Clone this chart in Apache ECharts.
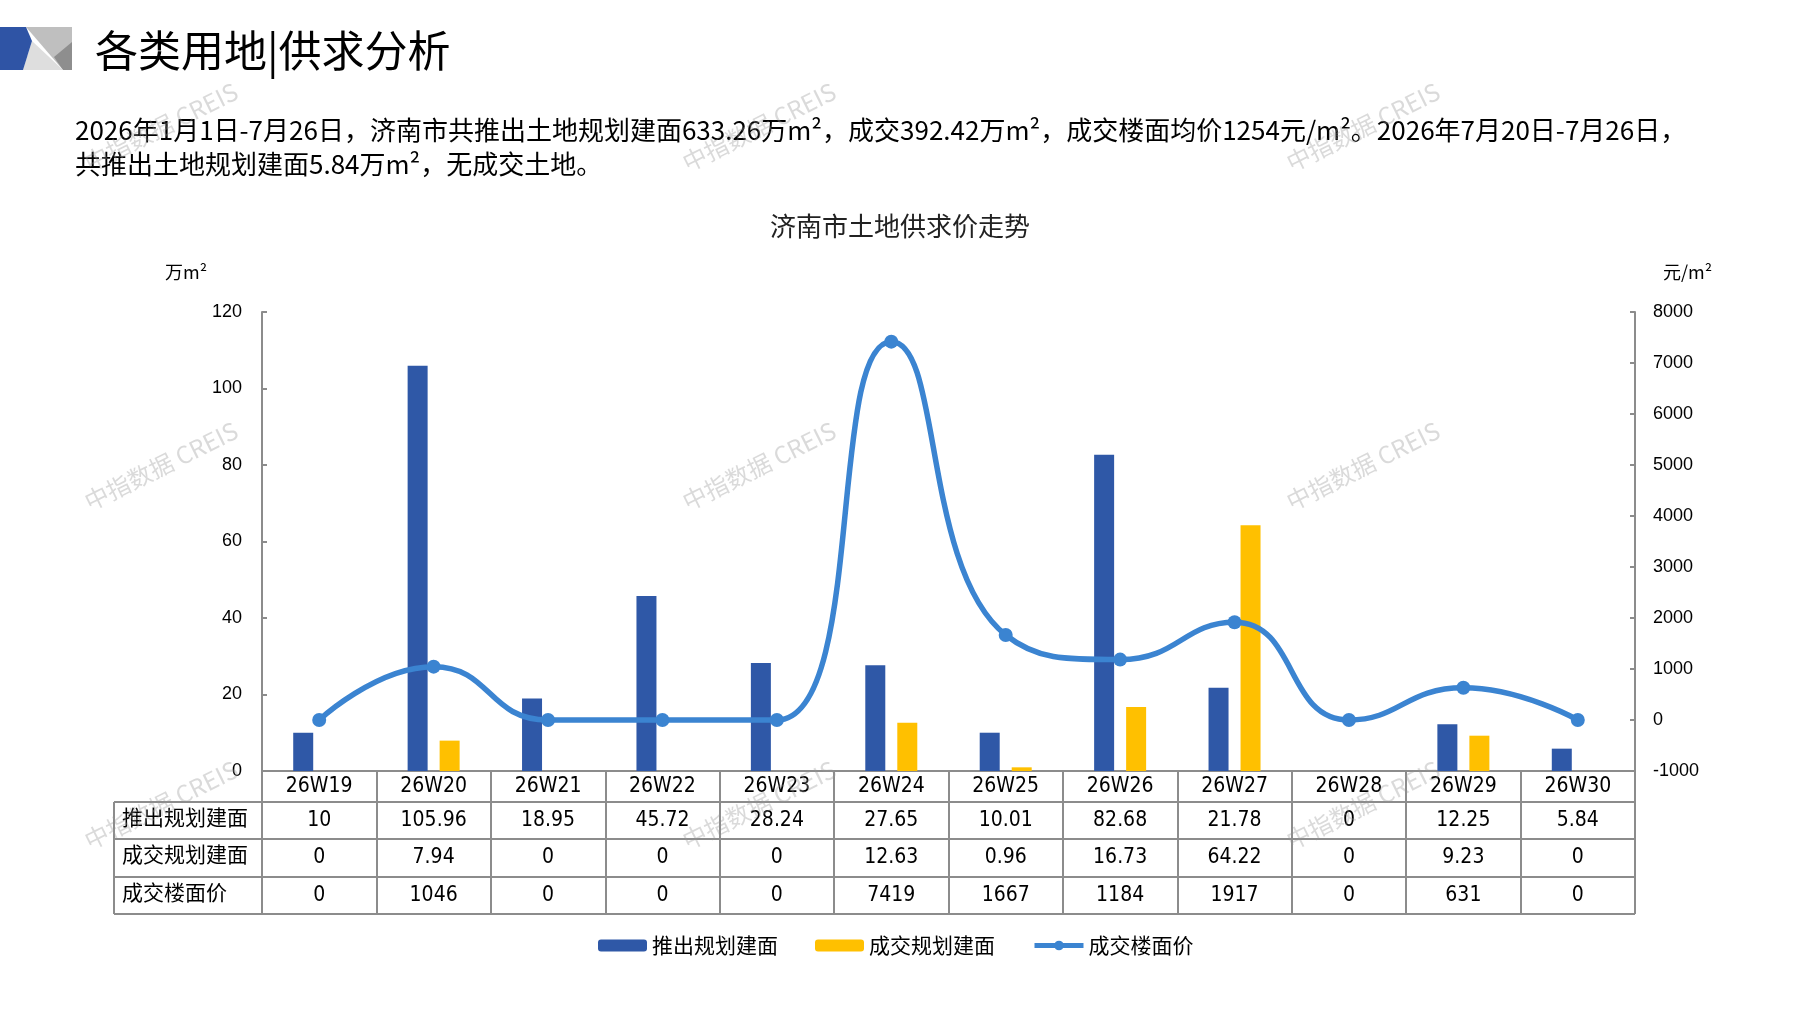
<!DOCTYPE html>
<html>
<head>
<meta charset="utf-8">
<title>济南市土地供求价走势</title>
<script src="https://cdn.jsdelivr.net/npm/echarts@6/dist/echarts.min.js"></script>
<style>
    html, body { margin: 0; padding: 0; background: #fff; }
    #chart { width: 1797px; height: 1010px; }
</style>
</head>
<body>
<div id="chart"></div>
<script>
// Data
const categories = ['26W19', '26W20', '26W21', '26W22', '26W23', '26W24', '26W25', '26W26', '26W27', '26W28', '26W29', '26W30'];
const supplyArea = [10, 105.96, 18.95, 45.72, 28.24, 27.65, 10.01, 82.68, 21.78, 0, 12.25, 5.84];
const dealArea = [0, 7.94, 0, 0, 0, 12.63, 0.96, 16.73, 64.22, 0, 9.23, 0];
const dealPrice = [0, 1046, 0, 0, 0, 7419, 1667, 1184, 1917, 0, 631, 0];
const seriesNames = ['推出规划建面', '成交规划建面', '成交楼面价'];
const tableRows = [supplyArea, dealArea, dealPrice];

// Texts
const pageTitle = '各类用地|供求分析';
const summaryLines = [
    '2026年1月1日-7月26日，济南市共推出土地规划建面633.26万m²，成交392.42万m²，成交楼面均价1254元/m²。2026年7月20日-7月26日，',
    '共推出土地规划建面5.84万m²，无成交土地。'
];
const chartTitle = '济南市土地供求价走势';
const leftUnit = '万m²';
const rightUnit = '元/m²';
const watermark = '中指数据 CREIS';

// Layout
const W = 1797, H = 1010;
const GRID_LEFT = 262, GRID_RIGHT = 1635, GRID_TOP = 312, AXIS_Y = 771;
const TABLE_LEFT = 114;
const ROW_LINES = [802, 839, 877, 914];   // bottoms of table rows
const GREY = '#8c8c8c';
const CJK = '"Noto Sans CJK SC", "Noto Sans", sans-serif';
const NUM = '"Liberation Sans Narrow", "DejaVu Sans Condensed", "Liberation Sans", sans-serif';
const AXISFONT = '"Liberation Sans", Arial, sans-serif';

const blue = '#2f58a7';
const yellow = '#ffc000';
const lineBlue = '#3b84d1';

let chart = echarts.init(document.getElementById('chart'));

// Row centres of the table (category row + data rows)
function rowCentres() {
    const tops = [AXIS_Y].concat(ROW_LINES.slice(0, -1));
    return ROW_LINES.map((b, i) => (tops[i] + b) / 2);
}
const centres = rowCentres();

// Extra x axes that print the table rows
function tableAxis(values, centre) {
    return {
        type: 'category',
        data: categories,
        position: 'bottom',
        offset: 0,
        axisLine: { show: false },
        axisTick: { show: false },
        axisLabel: {
            interval: 0,
            margin: centre - AXIS_Y,
            verticalAlign: 'middle',
            fontFamily: NUM,
            fontSize: 21,
            color: '#000',
            formatter: (v, i) => String(values[i])
        }
    };
}

// Static graphics: header logo, table borders, row headers, watermarks
function buildGraphics() {
    const g = [];
    // logo
    g.push({ type: 'polygon', shape: { points: [[26, 27], [72, 27], [72, 70], [63, 70]] }, style: { fill: '#bfbfbf' } });
    g.push({ type: 'polygon', shape: { points: [[54, 57], [72, 42], [72, 70], [63, 70]] }, style: { fill: '#8e8e8e' } });
    g.push({ type: 'polygon', shape: { points: [[32, 41], [23, 70], [63, 70]] }, style: { fill: '#dedede' } });
    g.push({ type: 'polygon', shape: { points: [[0, 27], [26, 27], [32, 41], [23, 70], [0, 70]] }, style: { fill: '#2f54a5' } });

    // table horizontal lines and left border
    ROW_LINES.forEach(y => {
        g.push({ type: 'line', shape: { x1: TABLE_LEFT, y1: y, x2: GRID_RIGHT, y2: y }, style: { stroke: GREY, lineWidth: 2 } });
    });
    g.push({ type: 'line', shape: { x1: TABLE_LEFT, y1: ROW_LINES[0], x2: TABLE_LEFT, y2: ROW_LINES[ROW_LINES.length - 1] }, style: { stroke: GREY, lineWidth: 2 } });

    // row headers
    seriesNames.forEach((name, i) => {
        g.push({
            type: 'text', left: TABLE_LEFT + 8, top: centres[i + 1] - 14,
            style: { text: name, font: '21px ' + CJK, fill: '#000' }
        });
    });

    // unit labels
    g.push({ type: 'text', left: 165, top: 263, style: { text: leftUnit, font: '18px ' + CJK, fill: '#000' } });
    g.push({ type: 'text', left: 1663, top: 263, style: { text: rightUnit, font: '18px ' + CJK, fill: '#000' } });

    // watermarks
    [161, 759, 1363].forEach(x => {
        [127, 466, 805].forEach(y => {
            g.push({
                type: 'text', x: x, y: y, rotation: 0.46, z: 100,
                style: { text: watermark, font: '24px ' + CJK, fill: 'rgba(150,150,150,0.35)', align: 'center', verticalAlign: 'middle' }
            });
        });
    });
    return g;
}

const option = {
    backgroundColor: '#fff',
    animation: false,
    title: [
        { text: pageTitle, left: 90, top: 24, textStyle: { fontFamily: CJK, fontSize: 43, fontWeight: 'normal', color: '#000' } },
        {
            text: summaryLines.join('\n'), left: 70, top: 108,
            textStyle: { fontFamily: CJK, fontSize: 26, fontWeight: 'normal', color: '#000', lineHeight: 34 }
        },
        { text: chartTitle, left: 895, textAlign: 'center', top: 208, textStyle: { fontFamily: CJK, fontSize: 26, fontWeight: 'normal', color: '#222' } }
    ],
    legend: {
        data: [
            { name: seriesNames[0] },
            { name: seriesNames[1] },
            { name: seriesNames[2], lineStyle: { width: 5 } }
        ],
        left: 593, top: 930,
        itemWidth: 49, itemHeight: 12, itemGap: 37,
        textStyle: { fontFamily: CJK, fontSize: 21, color: '#000' }
    },
    grid: { left: GRID_LEFT, right: W - GRID_RIGHT, top: GRID_TOP, bottom: H - AXIS_Y, containLabel: false },
    xAxis: [
        {
            type: 'category',
            data: categories,
            axisLine: { lineStyle: { color: GREY, width: 2 } },
            axisTick: { show: true, inside: false, length: ROW_LINES[ROW_LINES.length - 1] - AXIS_Y, lineStyle: { color: GREY, width: 2 } },
            axisLabel: {
                interval: 0, margin: centres[0] - AXIS_Y, verticalAlign: 'middle',
                fontFamily: NUM, fontSize: 21, color: '#000'
            }
        },
        tableAxis(tableRows[0], centres[1]),
        tableAxis(tableRows[1], centres[2]),
        tableAxis(tableRows[2], centres[3])
    ],
    yAxis: [
        {
            type: 'value', min: 0, max: 120, interval: 20,
            axisLine: { show: true, lineStyle: { color: GREY, width: 2 } },
            axisTick: { show: true, inside: true, length: 5, lineStyle: { color: GREY, width: 2 } },
            axisLabel: { margin: 20, fontFamily: AXISFONT, fontSize: 18, color: '#000', formatter: v => String(v) },
            splitLine: { show: false }
        },
        {
            type: 'value', min: -1000, max: 8000, interval: 1000,
            axisLine: { show: true, lineStyle: { color: GREY, width: 2 } },
            axisTick: { show: true, inside: true, length: 5, lineStyle: { color: GREY, width: 2 } },
            axisLabel: { margin: 18, fontFamily: AXISFONT, fontSize: 18, color: '#000', formatter: v => String(v) },
            splitLine: { show: false }
        }
    ],
    series: [
        {
            name: seriesNames[0], type: 'bar', data: supplyArea,
            barWidth: 20, barGap: '60%',
            itemStyle: { color: blue }
        },
        {
            name: seriesNames[1], type: 'bar', data: dealArea,
            barWidth: 20, barGap: '60%',
            itemStyle: { color: yellow }
        },
        {
            name: seriesNames[2], type: 'line', yAxisIndex: 1, data: dealPrice,
            smooth: 0.5,
            symbol: 'circle', symbolSize: 14,
            lineStyle: { color: lineBlue, width: 5.5 },
            itemStyle: { color: lineBlue }
        }
    ],
    graphic: buildGraphics()
};

chart.setOption(option);
</script>
</body>
</html>
